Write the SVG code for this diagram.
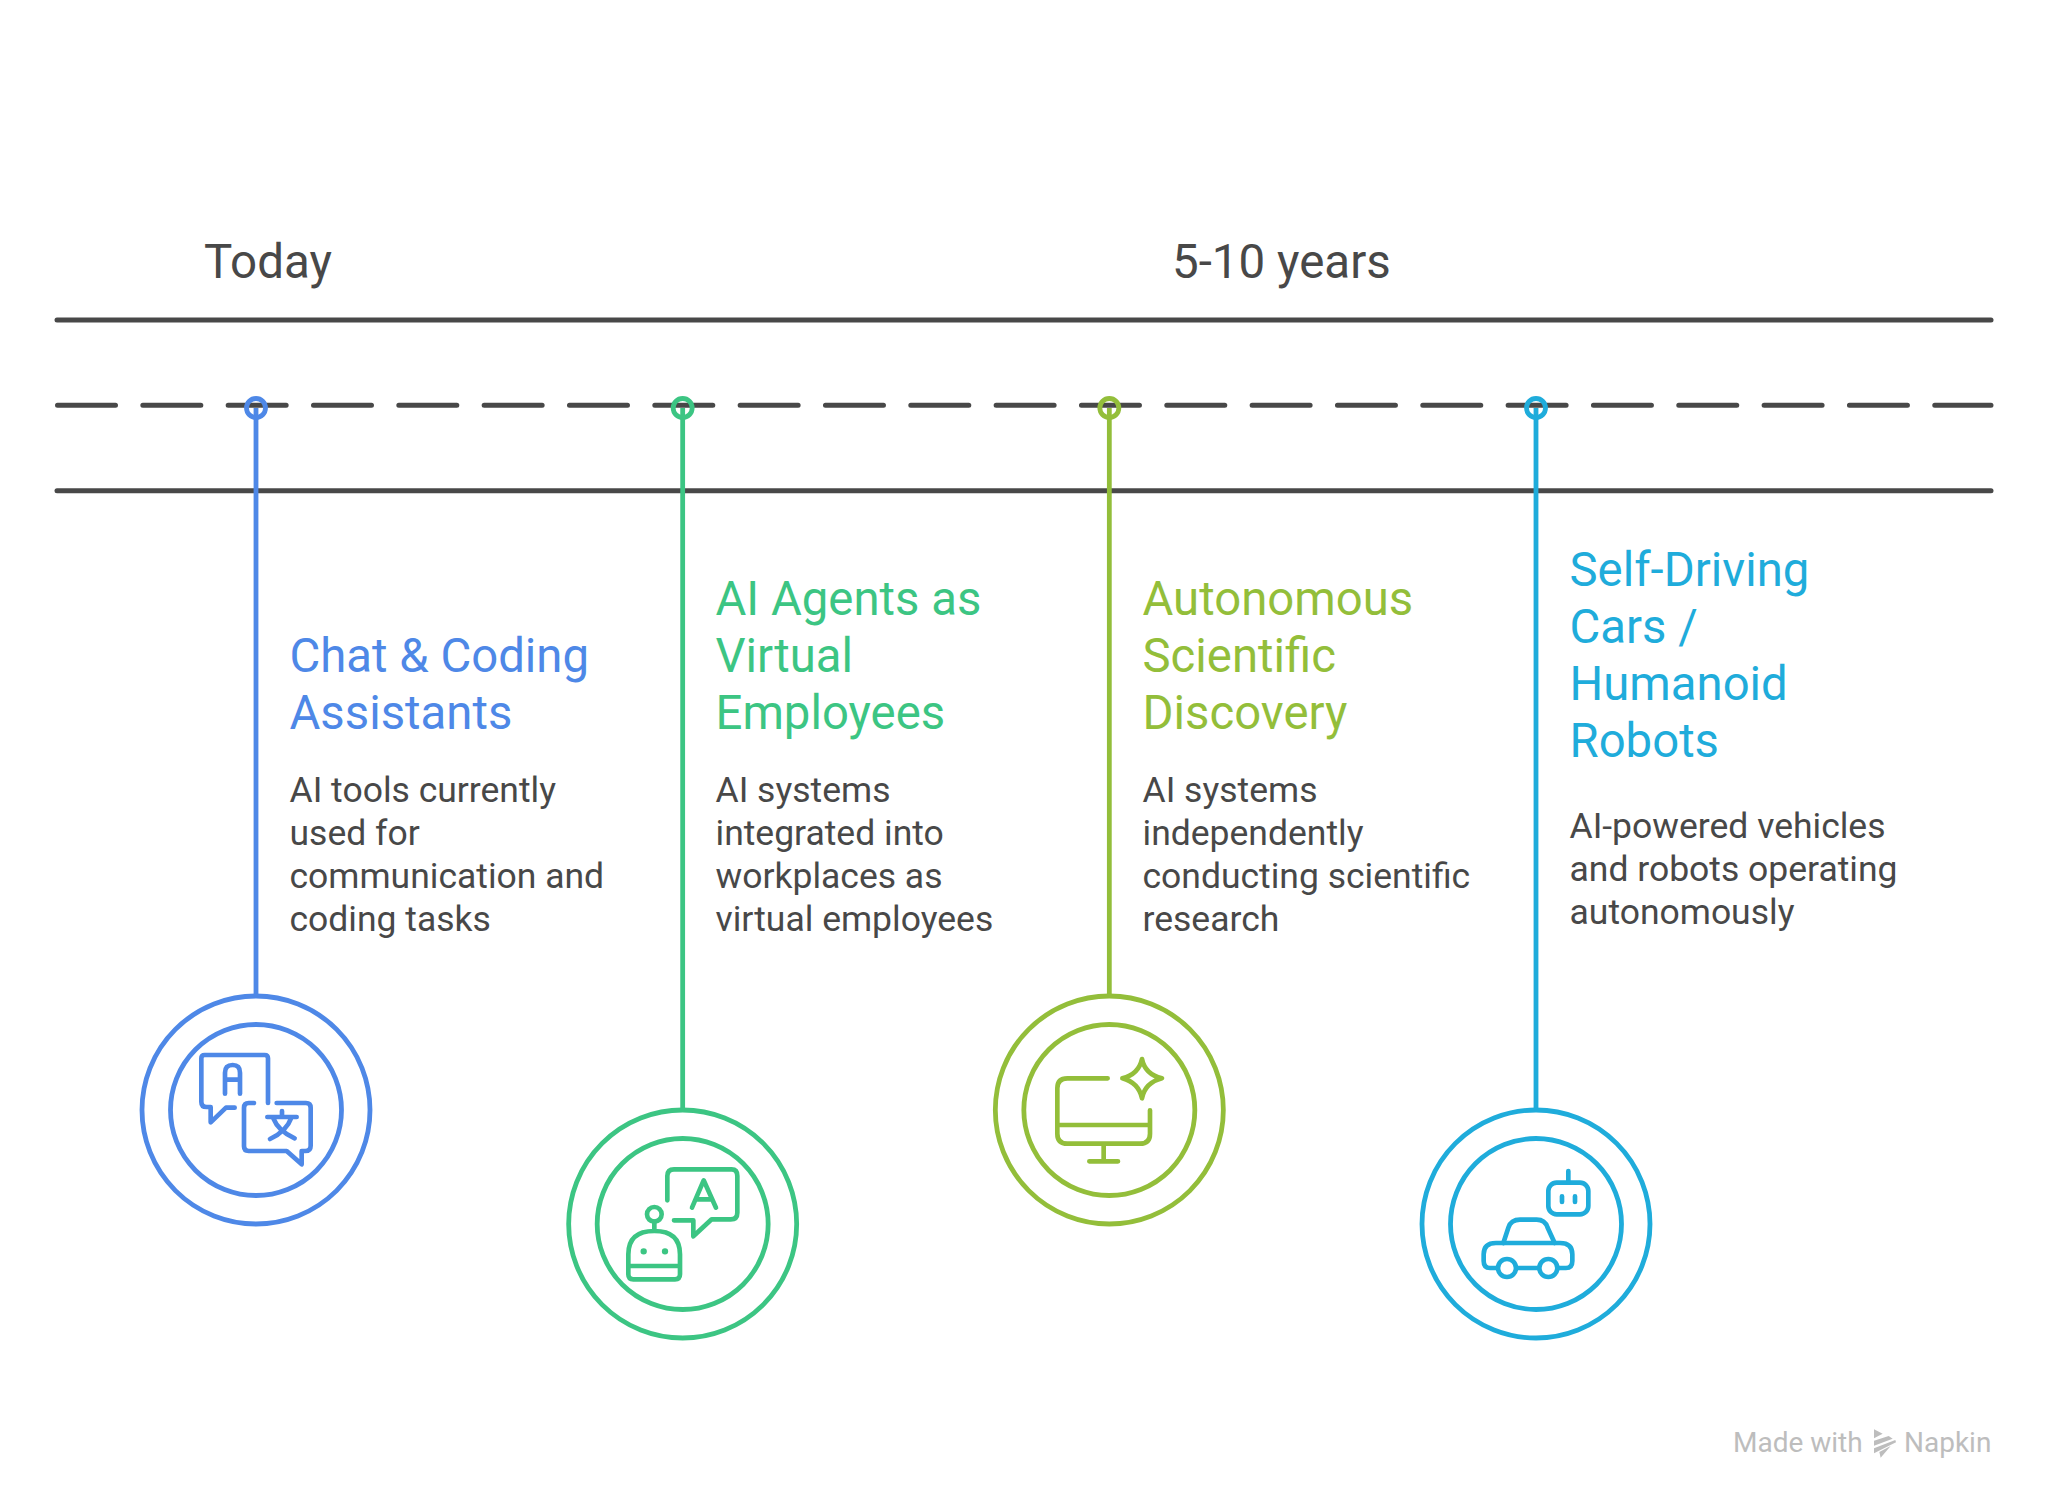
<svg xmlns="http://www.w3.org/2000/svg" width="2048" height="1508" viewBox="0 0 2048 1508">
<style>
text{font-family:Roboto,"Liberation Sans",sans-serif}
.h{font-size:47.300px}
.b{font-size:35.500px;fill:#484848}
.t{font-size:47.500px;fill:#484848}
.road{stroke:#484848;stroke-width:5;stroke-linecap:round;fill:none}
.ic{fill:none;stroke-width:14;stroke-linecap:round;stroke-linejoin:round}
.ring{fill:none;stroke-width:4.800}
.stem{stroke-width:4.800;fill:none}
.pin{fill:none;stroke-width:4.800}
.c1{stroke:#4E88E7}.c2{stroke:#3CC583}.c3{stroke:#93BE3A}.c4{stroke:#1FACDB}
.f1{fill:#4E88E7}.f2{fill:#3CC583}.f3{fill:#93BE3A}.f4{fill:#1FACDB}
.wm{font-size:28px;fill:#BDBDBD}
</style>
<g id="timeline">
<line class="road" x1="57" y1="320" x2="1991" y2="320"/>
<line class="road" x1="57.500" y1="405.300" x2="1991" y2="405.300" stroke-dasharray="58 27.330"/>
<line class="road" x1="57" y1="490.700" x2="1991" y2="490.700"/>
</g>
<g id="period-labels">
<text class="t" x="204" y="278">Today</text>
<text class="t" x="1172" y="278">5-10 years</text>
</g>
<g id="connectors">
<line class="stem c1" x1="256" y1="408" x2="256" y2="996"/>
<line class="stem c2" x1="682.670" y1="408" x2="682.670" y2="1110"/>
<line class="stem c3" x1="1109.330" y1="408" x2="1109.330" y2="996"/>
<line class="stem c4" x1="1536" y1="408" x2="1536" y2="1110"/>
<circle class="pin c1" cx="256" cy="408" r="9.500"/>
<circle class="pin c2" cx="682.670" cy="408" r="9.500"/>
<circle class="pin c3" cx="1109.330" cy="408" r="9.500"/>
<circle class="pin c4" cx="1536" cy="408" r="9.500"/>
</g>
<g id="node-chat">
<circle class="ring c1" cx="256" cy="1110" r="114"/>
<circle class="ring c1" cx="256" cy="1110" r="85.500"/>
<g transform="translate(120 981) scale(.33333)" class="ic c1">
<path d="M444 366V232Q444 222 434 222H254Q244 222 244 232V362Q244 378 260 378H272V424L318 380H344"/>
<path d="M315 338V275Q315 252 338 252Q360 252 360 275V338M315 296H360"/>
<path d="M402 366H386Q372 366 372 380V496Q372 510 386 510H500L545 550V510H556Q572 510 572 494V380Q572 366 558 366H470"/>
<path d="M442 408H530M486 390V408M514 410Q500 450 450 474M460 412Q475 450 524 472"/>
</g>
<text class="h f1" x="289.500" y="672">Chat &amp; Coding</text>
<text class="h f1" x="289.500" y="729">Assistants</text>
<text class="b" x="289.500" y="802">AI tools currently</text>
<text class="b" x="289.500" y="845">used for</text>
<text class="b" x="289.500" y="888">communication and</text>
<text class="b" x="289.500" y="931">coding tasks</text>
</g>
<g id="node-agents">
<circle class="ring c2" cx="682.670" cy="1224" r="114"/>
<circle class="ring c2" cx="682.670" cy="1224" r="85.500"/>
<g transform="translate(550 1091) scale(.33333)" class="ic c2">
<path d="M352 328V255Q352 235 372 235H545Q562 235 562 255V365Q562 385 542 385H485L430 436V388H372"/>
<path d="M426 350L461 268L498 350M438 325H486"/>
<circle cx="313" cy="370" r="22"/>
<path d="M313 392V418M235 525V490Q235 420 313 420Q390 420 390 490V550Q390 565 375 565H250Q235 565 235 550V525H390"/>
<path d="M281 481h.1M345 481h.1" stroke-width="19"/>
</g>
<text class="h f2" x="715.500" y="615">AI Agents as</text>
<text class="h f2" x="715.500" y="672">Virtual</text>
<text class="h f2" x="715.500" y="729">Employees</text>
<text class="b" x="715.500" y="802">AI systems</text>
<text class="b" x="715.500" y="845">integrated into</text>
<text class="b" x="715.500" y="888">workplaces as</text>
<text class="b" x="715.500" y="931">virtual employees</text>
</g>
<g id="node-discovery">
<circle class="ring c3" cx="1109.330" cy="1110" r="114"/>
<circle class="ring c3" cx="1109.330" cy="1110" r="85.500"/>
<g transform="translate(980 981) scale(.33333)" class="ic c3">
<path d="M383 292H262Q232 292 232 322V458Q232 488 262 488H480Q510 488 510 458V388M232 432H510M371 488V541M328 541H414"/>
<path d="M486 234Q495 280 546 292Q495 305 486 352Q476 305 427 292Q476 280 486 234Z"/>
</g>
<text class="h f3" x="1142.500" y="615">Autonomous</text>
<text class="h f3" x="1142.500" y="672">Scientific</text>
<text class="h f3" x="1142.500" y="729">Discovery</text>
<text class="b" x="1142.500" y="802">AI systems</text>
<text class="b" x="1142.500" y="845">independently</text>
<text class="b" x="1142.500" y="888">conducting scientific</text>
<text class="b" x="1142.500" y="931">research</text>
</g>
<g id="node-robots">
<circle class="ring c4" cx="1536" cy="1224" r="114"/>
<circle class="ring c4" cx="1536" cy="1224" r="85.500"/>
<g transform="translate(1410 1091) scale(.33333)" class="ic c4">
<rect x="415" y="275" width="120" height="95" rx="25"/>
<path d="M475 240V275M456 316V333M495 316V333"/>
<path d="M262 531H240Q221 531 221 510V490Q221 456 258 456H450Q487 456 487 490V510Q487 531 468 531H446M322 531H384"/>
<circle cx="291" cy="531" r="27"/>
<circle cx="415" cy="531" r="27"/>
<path d="M280 456L295 410Q303 386 330 386H380Q405 386 413 410L434 456"/>
</g>
<text class="h f4" x="1569.500" y="586">Self-Driving</text>
<text class="h f4" x="1569.500" y="643">Cars /</text>
<text class="h f4" x="1569.500" y="700">Humanoid</text>
<text class="h f4" x="1569.500" y="757">Robots</text>
<text class="b" x="1569.500" y="838">AI-powered vehicles</text>
<text class="b" x="1569.500" y="881">and robots operating</text>
<text class="b" x="1569.500" y="924">autonomously</text>
</g>
<g id="watermark">
<text class="wm" x="1733" y="1452">Made with</text>
<g transform="translate(1700 1410) scale(.33333)" fill="#BDBDBD">
<polygon points="522,58 548,71 522,85"/>
<polygon points="522,92 566,78 578,86 522,107"/>
<polygon points="522,115 586,90 588,97 522,130"/>
<polygon points="538,126 572,108 542,143"/>
</g>
<text class="wm" x="1904" y="1452">Napkin</text>
</g>
</svg>
